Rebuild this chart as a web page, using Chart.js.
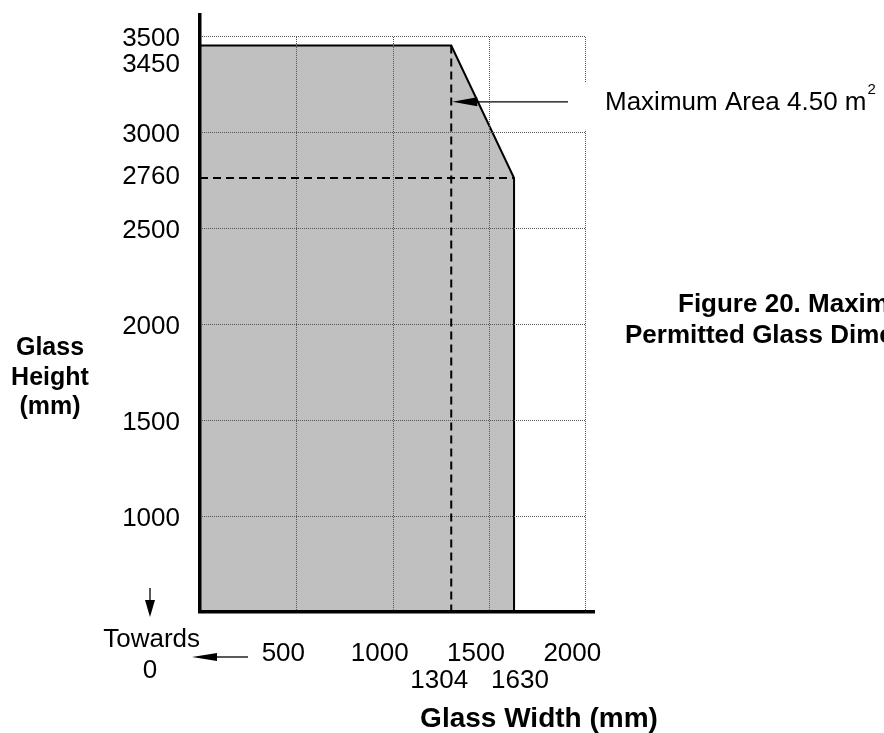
<!DOCTYPE html>
<html>
<head>
<meta charset="utf-8">
<script src="https://cdn.jsdelivr.net/npm/chart.js@4.4.1/dist/chart.umd.min.js"></script>
<style>
html, body { margin: 0; padding: 0; background: #fff; }
</style>
</head>
<body>
<canvas id="chart" width="884" height="733"></canvas>
<script>
// outline of the permitted region (width mm / height mm)
const outlineWidth = [0, 1304, 1630, 1630];
const outlineHeight = [3450, 3450, 2760, 500];

// the two limit corners
const cornerWidths = [1304, 1630];
const cornerHeights = [3450, 2760];

// axis ticks
const xTicks = [500, 1000, 1500, 2000];
const yTicks = [1000, 1500, 2000, 2500, 3000, 3500];

// where the "Maximum Area" arrow sits (mm)
const areaArrowY = 3157;
const areaArrowTail = 1910;

const FONT = "'Liberation Sans', Arial, sans-serif";

function line(ctx, x0, y0, x1, y1) {
    ctx.beginPath();
    ctx.moveTo(x0, y0);
    ctx.lineTo(x1, y1);
    ctx.stroke();
}

function arrow(ctx, x0, y0, x1, y1, headLen, headHalf) {
    const ang = Math.atan2(y1 - y0, x1 - x0);
    const bx = x1 - Math.cos(ang) * headLen;
    const by = y1 - Math.sin(ang) * headLen;
    line(ctx, x0, y0, bx, by);
    ctx.beginPath();
    ctx.moveTo(x1, y1);
    ctx.lineTo(bx + Math.sin(ang) * headHalf, by - Math.cos(ang) * headHalf);
    ctx.lineTo(bx - Math.sin(ang) * headHalf, by + Math.cos(ang) * headHalf);
    ctx.closePath();
    ctx.fill();
}

const extras = {
    id: 'extras',
    afterDatasetDraw(chart, args) {
        // dotted grid, only inside the 0..2000 x 500..3500 box, over the grey fill
        if (args.index !== 0) return;
        const { ctx, scales: { x, y } } = chart;
        const gridRight = x.getPixelForValue(xTicks[xTicks.length - 1]);
        const gridTop = y.getPixelForValue(yTicks[yTicks.length - 1]);
        ctx.save();
        ctx.strokeStyle = '#555';
        ctx.lineWidth = 1;
        ctx.setLineDash([1, 1]);
        xTicks.forEach(v => {
            const px = Math.round(x.getPixelForValue(v)) + 0.5;
            line(ctx, px, y.getPixelForValue(y.min), px, gridTop);
        });
        yTicks.forEach(v => {
            const py = Math.round(y.getPixelForValue(v)) + 0.5;
            line(ctx, x.getPixelForValue(0), py, gridRight, py);
        });
        ctx.restore();
    },
    afterDraw(chart) {
        const { ctx, scales: { x, y } } = chart;
        ctx.save();
        ctx.fillStyle = '#000';
        ctx.strokeStyle = '#000';

        // corner values as extra tick labels
        ctx.font = '26px ' + FONT;
        ctx.textBaseline = 'alphabetic';
        ctx.textAlign = 'right';
        ctx.fillText(String(cornerHeights[0]), 180, Math.round(y.getPixelForValue(cornerHeights[0])) + 26);
        ctx.fillText(String(cornerHeights[1]), 180, Math.round(y.getPixelForValue(cornerHeights[1])) + 6);
        ctx.textAlign = 'center';
        ctx.fillText(String(cornerWidths[0]), x.getPixelForValue(cornerWidths[0]) - 12, 688);
        ctx.fillText(String(cornerWidths[1]), x.getPixelForValue(cornerWidths[1]) + 6, 688);

        // maximum area note, white box breaks the 2000 grid line
        const ay = y.getPixelForValue(areaArrowY);
        ctx.fillStyle = '#fff';
        ctx.fillRect(578, ay - 19, 306, 47);
        ctx.fillStyle = '#000';
        ctx.lineWidth = 1.3;
        arrow(ctx, x.getPixelForValue(areaArrowTail), ay, x.getPixelForValue(cornerWidths[0]) + 1, ay, 25, 4.5);
        ctx.textAlign = 'left';
        ctx.font = '26px ' + FONT;
        ctx.fillText('Maximum Area 4.50 m', 605, ay + 8);
        const w = ctx.measureText('Maximum Area 4.50 m').width;
        ctx.font = '15px ' + FONT;
        ctx.fillText('2', 605 + w + 1, ay - 8);

        // caption (runs off the right edge like the original)
        ctx.font = 'bold 26px ' + FONT;
        ctx.fillText('Figure 20. Maximum', 678, 312);
        ctx.fillText('Permitted Glass Dimensions', 625, 343);

        // axis titles
        ctx.font = 'bold 25px ' + FONT;
        ctx.textAlign = 'center';
        ctx.fillText('Glass', 50, 355);
        ctx.fillText('Height', 50, 385);
        ctx.fillText('(mm)', 50, 414);
        ctx.font = 'bold 28px ' + FONT;
        ctx.fillText('Glass Width (mm)', 539, 727);

        // "Towards 0" with both arrows
        ctx.font = '26px ' + FONT;
        ctx.textAlign = 'right';
        ctx.fillText('Towards', 200, 647);
        ctx.textAlign = 'center';
        ctx.fillText('0', 150, 678);
        ctx.lineWidth = 1.3;
        arrow(ctx, 150, 588, 150, 617, 17, 5);
        arrow(ctx, 248, 657, 192, 657, 25, 4);
        ctx.restore();
    }
};

const toPoints = (xs, ys) => xs.map((v, i) => ({ x: v, y: ys[i] }));

new Chart(document.getElementById('chart'), {
    type: 'line',
    data: {
        datasets: [
            {
                // permitted region
                data: toPoints(outlineWidth, outlineHeight),
                fill: 'start',
                backgroundColor: '#c0c0c0',
                borderColor: '#000',
                borderWidth: 2,
                pointRadius: 0,
                tension: 0,
                order: 2
            },
            {
                data: toPoints([0, cornerWidths[1]], [cornerHeights[1], cornerHeights[1]]),
                borderColor: '#000',
                borderWidth: 2,
                borderDash: [8, 5],
                pointRadius: 0,
                fill: false,
                order: 1
            },
            {
                data: toPoints([cornerWidths[0], cornerWidths[0]], [cornerHeights[0], outlineHeight[3]]),
                borderColor: '#000',
                borderWidth: 2,
                borderDash: [8, 5],
                pointRadius: 0,
                fill: false,
                order: 0
            }
        ]
    },
    options: {
        responsive: false,
        animation: false,
        devicePixelRatio: 1,
        layout: { padding: { top: 15, right: 290, left: 0, bottom: 0 } },
        plugins: { legend: { display: false }, tooltip: { enabled: false } },
        scales: {
            x: {
                type: 'linear',
                min: 0,
                max: 2045,
                afterBuildTicks: s => { s.ticks = xTicks.map(v => ({ value: v })); },
                afterFit: s => {
                    s.height = 121;
                    s.paddingLeft = 0;
                    s.paddingRight = 0;
                },
                grid: { display: false, drawTicks: false },
                border: { display: true, color: '#000', width: 3.5, z: 1 },
                ticks: {
                    color: '#000',
                    font: { family: FONT, size: 26 },
                    padding: 26,
                    labelOffset: -13,
                    autoSkip: false,
                    maxRotation: 0,
                    callback: v => String(v)
                }
            },
            y: {
                type: 'linear',
                min: 500,
                max: 3609,
                afterBuildTicks: s => { s.ticks = yTicks.map(v => ({ value: v })); },
                afterFit: s => {
                    s.width = 200;
                    s.paddingTop = 0;
                    s.paddingBottom = 0;
                },
                grid: { display: false, drawTicks: false },
                border: { display: true, color: '#000', width: 3.5, z: 1 },
                ticks: {
                    color: '#000',
                    font: { family: FONT, size: 26 },
                    padding: 20,
                    labelOffset: 2.5,
                    autoSkip: false,
                    callback: v => String(v)
                }
            }
        }
    },
    plugins: [extras]
});
</script>
</body>
</html>
